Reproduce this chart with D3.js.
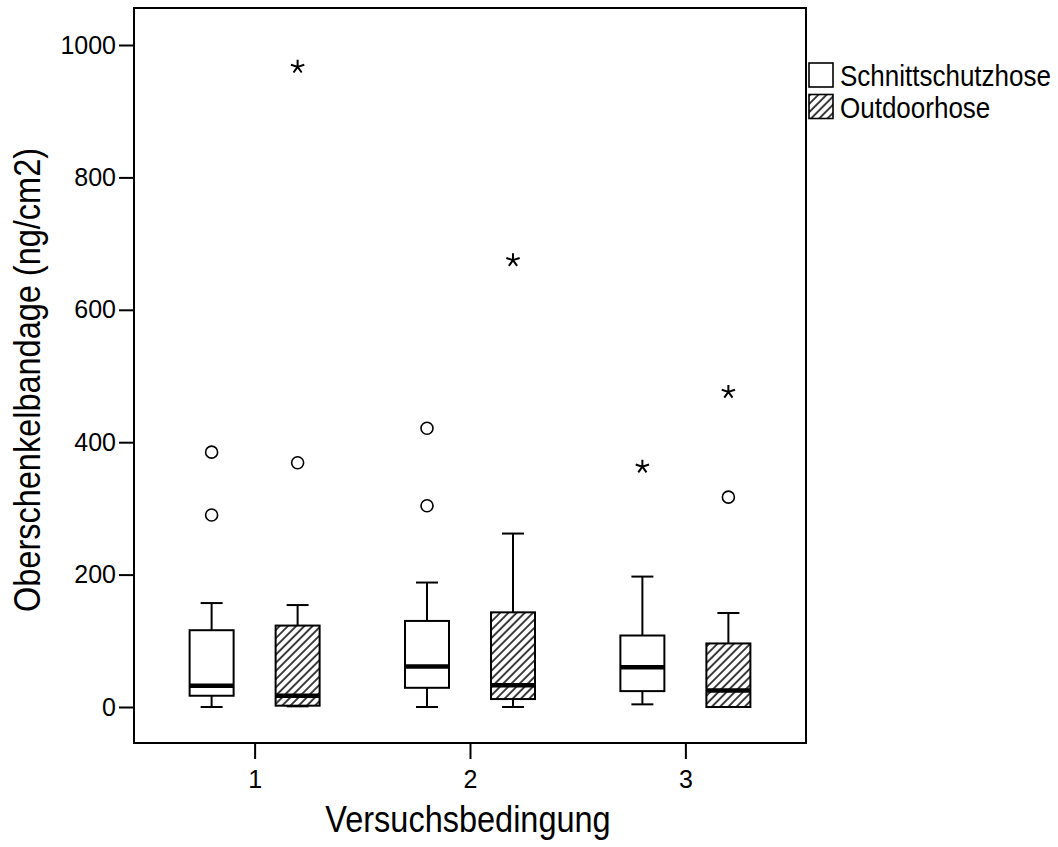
<!DOCTYPE html>
<html lang="de">
<head>
    <meta charset="UTF-8">
    <title>Oberschenkelbandage Boxplot</title>
    <script src="https://d3js.org/d3.v7.min.js"></script>
    <style>
        body { margin: 0; background: #fff; }
        text { font-family: "Liberation Sans", Arial, sans-serif; fill: #000; }
    </style>
</head>
<body>
<div id="chart"></div>

<script>
    // categories and series
    var categories = ["1", "2", "3"];
    var series = ["Schnittschutzhose", "Outdoorhose"];

    // box statistics, one row per series, one value per category
    var whiskerLow  = [[0, 0, 4],      [1, 0, 0]];
    var q1          = [[17, 29, 24],   [2, 12, 0]];
    var median      = [[32, 61, 60],   [17, 33, 25]];
    var q3          = [[116, 130, 108], [123, 143, 96]];
    var whiskerHigh = [[157, 188, 197], [154, 262, 142]];

    // outliers (circles) and extremes (stars): [series, category, value]
    var outliers = [
        ["Schnittschutzhose", "1", 385], ["Schnittschutzhose", "1", 290],
        ["Outdoorhose", "1", 369],
        ["Schnittschutzhose", "2", 421], ["Schnittschutzhose", "2", 304],
        ["Outdoorhose", "3", 317]
    ];
    var extremes = [
        ["Outdoorhose", "1", 967],
        ["Outdoorhose", "2", 675],
        ["Schnittschutzhose", "3", 363],
        ["Outdoorhose", "3", 476]
    ];

    var yTicks = [0, 200, 400, 600, 800, 1000];

    var W = 1058, H = 847;
    var margin = {left: 134, top: 8};
    var w = 672, h = 735;

    var svg = d3.select("#chart")
                .append("svg")
                .attr("width", W)
                .attr("height", H);

    svg.append("rect").attr("width", W).attr("height", H).attr("fill", "#fff");

    var defs = svg.append("defs");
    var pat = defs.append("pattern")
        .attr("id", "hatch")
        .attr("patternUnits", "userSpaceOnUse")
        .attr("width", 5.8)
        .attr("height", 5.8)
        .attr("patternTransform", "rotate(45)");
    pat.append("rect").attr("width", 5.8).attr("height", 5.8).attr("fill", "#fff");
    pat.append("line")
        .attr("x1", 1).attr("y1", 0).attr("x2", 1).attr("y2", 5.8)
        .attr("stroke", "#000").attr("stroke-width", 1.5);

    var g = svg.append("g")
               .attr("transform", "translate(" + margin.left + "," + margin.top + ")");

    var y = d3.scaleLinear().domain([0, 1000]).range([699, 37]);
    var x = d3.scalePoint().domain(categories).range([0, w]).padding(0.56);
    var xs = d3.scalePoint().domain(series).range([-43, 43]);
    var boxW = 44, capW = 22;

    function fillFor(s) { return s === series[0] ? "#fff" : "url(#hatch)"; }

    // boxes
    var boxes = [];
    series.forEach(function(s, si) {
        categories.forEach(function(c, ci) {
            boxes.push({s: s, c: c, lo: whiskerLow[si][ci], q1: q1[si][ci],
                        med: median[si][ci], q3: q3[si][ci], hi: whiskerHigh[si][ci]});
        });
    });

    var bg = g.selectAll("g.box")
              .data(boxes)
              .enter()
              .append("g")
              .attr("class", "box")
              .attr("transform", function(d) { return "translate(" + (x(d.c) + xs(d.s)) + ",0)"; });

    bg.append("line")
        .attr("x1", 0).attr("x2", 0)
        .attr("y1", function(d) { return y(d.hi); })
        .attr("y2", function(d) { return y(d.lo); })
        .attr("stroke", "#000").attr("stroke-width", 2);

    bg.selectAll("line.cap")
        .data(function(d) { return [d.hi, d.lo]; })
        .enter()
        .append("line")
        .attr("class", "cap")
        .attr("x1", -capW / 2).attr("x2", capW / 2)
        .attr("y1", function(v) { return y(v); })
        .attr("y2", function(v) { return y(v); })
        .attr("stroke", "#000").attr("stroke-width", 2);

    bg.append("rect")
        .attr("x", -boxW / 2)
        .attr("width", boxW)
        .attr("y", function(d) { return y(d.q3); })
        .attr("height", function(d) { return y(d.q1) - y(d.q3); })
        .attr("fill", function(d) { return fillFor(d.s); })
        .attr("stroke", "#000").attr("stroke-width", 2);

    bg.append("line")
        .attr("x1", -boxW / 2).attr("x2", boxW / 2)
        .attr("y1", function(d) { return y(d.med); })
        .attr("y2", function(d) { return y(d.med); })
        .attr("stroke", "#000").attr("stroke-width", 4.5);

    // outliers
    g.selectAll("circle.outlier")
        .data(outliers)
        .enter()
        .append("circle")
        .attr("class", "outlier")
        .attr("cx", function(d) { return x(d[1]) + xs(d[0]); })
        .attr("cy", function(d) { return y(d[2]); })
        .attr("r", 6)
        .attr("fill", "none")
        .attr("stroke", "#000").attr("stroke-width", 1.6);

    // extremes as five-armed asterisks
    var star = "";
    for (var k = 0; k < 5; k++) {
        var a = (-90 + 72 * k) * Math.PI / 180;
        star += "M0,0L" + (7 * Math.cos(a)).toFixed(2) + "," + (7 * Math.sin(a)).toFixed(2);
    }
    g.selectAll("path.extreme")
        .data(extremes)
        .enter()
        .append("path")
        .attr("class", "extreme")
        .attr("d", star)
        .attr("transform", function(d) { return "translate(" + (x(d[1]) + xs(d[0])) + "," + y(d[2]) + ")"; })
        .attr("fill", "none")
        .attr("stroke", "#000").attr("stroke-width", 2);

    // frame
    g.append("rect")
        .attr("width", w).attr("height", h)
        .attr("fill", "none")
        .attr("stroke", "#000").attr("stroke-width", 2);

    // axes
    var yAxis = g.append("g")
        .call(d3.axisLeft(y).tickValues(yTicks).tickFormat(d3.format("d")).tickSize(15).tickPadding(3));
    var xAxis = g.append("g")
        .attr("transform", "translate(0," + h + ")")
        .call(d3.axisBottom(x).tickSize(16).tickPadding(11));

    [yAxis, xAxis].forEach(function(ax) {
        ax.select(".domain").remove();
        ax.selectAll(".tick line").attr("stroke", "#000").attr("stroke-width", 2);
        ax.selectAll(".tick text")
          .attr("fill", "#000")
          .style("font-family", "'Liberation Sans', Arial, sans-serif")
          .style("font-size", "25px");
    });

    // axis titles
    svg.append("text")
        .attr("transform", "translate(468,832) scale(1,1.13)")
        .attr("text-anchor", "middle")
        .style("font-size", "32.5px")
        .text("Versuchsbedingung");

    svg.append("text")
        .attr("transform", "translate(40,380) rotate(-90) scale(1,1.13)")
        .attr("text-anchor", "middle")
        .style("font-size", "32.5px")
        .text("Oberschenkelbandage (ng/cm2)");

    // legend
    var leg = svg.selectAll("g.legend")
        .data(series)
        .enter()
        .append("g")
        .attr("class", "legend")
        .attr("transform", function(d, i) { return "translate(809," + (63 + i * 31.5) + ")"; });

    leg.append("rect")
        .attr("width", 24).attr("height", 24)
        .attr("fill", function(d) { return fillFor(d); })
        .attr("stroke", "#000").attr("stroke-width", 1.6);

    leg.append("text")
        .attr("transform", "translate(31,23) scale(1,1.13)")
        .style("font-size", "26px")
        .text(function(d) { return d; });
</script>
</body>
</html>
